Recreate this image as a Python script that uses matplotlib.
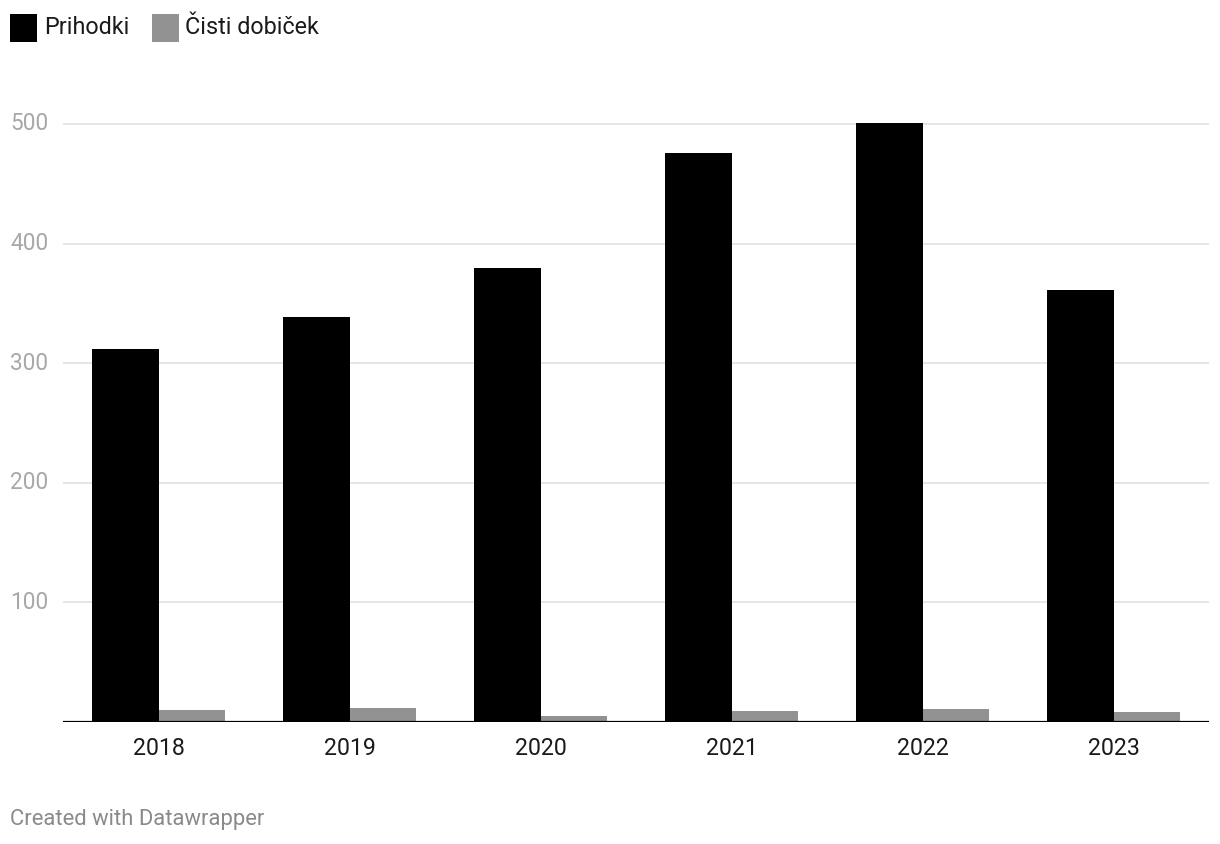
import matplotlib
matplotlib.use("Agg")
import matplotlib.pyplot as plt
import matplotlib.transforms as mtransforms
from matplotlib.patches import Rectangle
import numpy as np

plt.rcParams['font.family'] = ['Roboto', 'DejaVu Sans']

years = ["2018", "2019", "2020", "2021", "2022", "2023"]
prihodki = [312, 339, 380, 476, 501, 361]
dobicek = [10, 12, 5, 9, 11, 8.5]
series_names = ["Prihodki", "Čisti dobiček"]
colors = ["#000000", "#929292"]
yticks = [100, 200, 300, 400, 500]

W, H = 1220, 844
fig = plt.figure(figsize=(W / 100, H / 100), dpi=100)

def fx(px):
    return px / W

def fy(py):
    return 1 - py / H

left, right, bottom, top = 63, 1209, 722, 110
grid500 = 124
ax = fig.add_axes([fx(left), fy(bottom), fx(right - left), fy(top) - fy(bottom)])

x = np.arange(len(years))
bw = 0.35
ax.bar(x - bw / 2, prihodki, width=bw, color=colors[0], zorder=2)
ax.bar(x + bw / 2, dobicek, width=bw, color=colors[1], zorder=2)

ymax = (bottom - top) / ((bottom - grid500) / 500)
ax.set_ylim(0, ymax)
ax.set_xlim(-0.5, len(years) - 0.5)

for s in ax.spines.values():
    s.set_visible(False)
ax.axhline(0, color="#000000", lw=1.6, zorder=3)
for t in yticks:
    ax.axhline(t, color="#e2e2e2", lw=1.2, zorder=1)

ax.set_yticks([])
ax.set_xticks(x)
ax.set_xticklabels(years, fontsize=16.7, color="#1a1a1a")
ax.tick_params(axis="x", length=0, pad=11)

trans = mtransforms.blended_transform_factory(fig.transFigure, ax.transData)
for t in yticks:
    ax.text(fx(10), t, str(t), transform=trans, ha="left", va="center",
            fontsize=16.3, color="#a8a8a8")

# legend
items = [(10, 44), (152, 185)]
for (sx, tx), name, c in zip(items, series_names, colors):
    fig.patches.append(Rectangle((fx(sx), fy(42)), fx(27), fy(14) - fy(42),
                                 transform=fig.transFigure, color=c, lw=0))
    fig.text(fx(tx), fy(28), name, ha="left", va="center", fontsize=16.8,
             color="#1a1a1a")

fig.text(fx(10), fy(820), "Created with Datawrapper", ha="left", va="center",
         fontsize=15.8, color="#8a8a8a")

fig.savefig("out.png", dpi=100, facecolor="white")
